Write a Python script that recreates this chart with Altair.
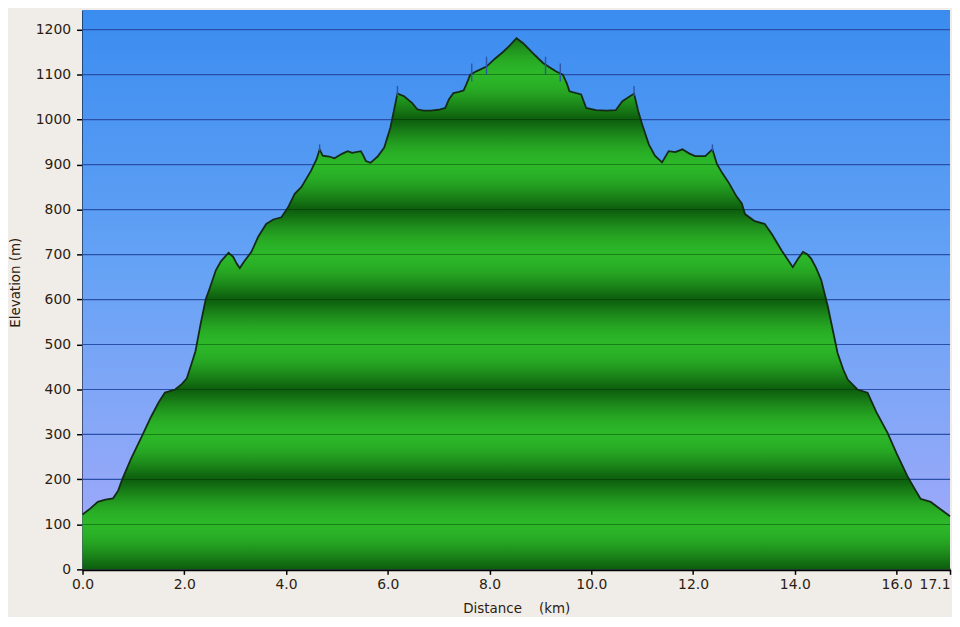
import math
import altair as alt
import pandas as pd

# ---------------- data ----------------
dist = [0.00, 0.15, 0.30, 0.45, 0.60, 0.70, 0.78, 0.95, 1.17, 1.35, 1.50, 1.62, 1.82, 1.95,
        2.05, 2.15, 2.22, 2.32, 2.42, 2.50, 2.62, 2.72, 2.87, 2.96, 3.03, 3.09, 3.18, 3.32,
        3.45, 3.61, 3.75, 3.91, 4.04, 4.17, 4.30, 4.49, 4.60, 4.66, 4.72, 4.85, 4.95, 5.10,
        5.21, 5.30, 5.47, 5.52, 5.57, 5.66, 5.80, 5.93, 6.05, 6.12, 6.19, 6.32, 6.48, 6.58,
        6.70, 6.84, 7.00, 7.13, 7.20, 7.29, 7.40, 7.49, 7.55, 7.62, 7.75, 7.94, 8.10, 8.27,
        8.40, 8.53, 8.66, 8.85, 9.05, 9.20, 9.31, 9.44, 9.52, 9.57, 9.80, 9.90, 10.09, 10.30,
        10.48, 10.61, 10.84, 10.92, 11.00, 11.13, 11.25, 11.39, 11.52, 11.65, 11.79, 11.92,
        12.04, 12.24, 12.38, 12.47, 12.58, 12.70, 12.85, 12.96, 13.02, 13.20, 13.41, 13.55,
        13.74, 13.96, 14.06, 14.16, 14.25, 14.32, 14.42, 14.52, 14.65, 14.75, 14.84, 14.95,
        15.04, 15.23, 15.43, 15.60, 15.82, 16.00, 16.21, 16.35, 16.47, 16.67, 16.85, 17.05]
elev = [122, 135, 150, 155, 158, 175, 200, 245, 297, 340, 372, 393, 400, 412,
        425, 460, 485, 545, 600, 625, 665, 685, 704, 695, 680, 670, 685, 706,
        739, 768, 778, 783, 805, 835, 850, 886, 912, 934, 920, 918, 914, 924,
        930, 926, 930, 920, 908, 904, 918, 938, 982, 1020, 1058, 1052, 1037, 1023,
        1020, 1020, 1022, 1026, 1045, 1059, 1062, 1065, 1080, 1100, 1108, 1118, 1135, 1151,
        1165, 1181, 1170, 1148, 1126, 1115, 1107, 1100, 1080, 1063, 1056, 1026, 1021, 1020,
        1021, 1041, 1058, 1020, 989, 945, 920, 905, 930, 928, 934, 925,
        919, 919, 934, 901, 880, 860, 830, 813, 790, 775, 768, 745,
        709, 672, 690, 706, 700, 691, 670, 643, 584, 530, 481, 445,
        422, 400, 393, 350, 304, 258, 208, 180, 157, 150, 135, 118]

x_ticks = [0, 2, 4, 6, 8, 10, 12, 14, 16, 17.05]
y_ticks = [0, 100, 200, 300, 400, 500, 600, 700, 800, 900, 1000, 1100, 1200]

wp_dist = [4.66, 6.19, 7.65, 7.94, 9.10, 9.39, 10.84, 12.38]
wp_lo = [930, 1052, 1085, 1100, 1100, 1085, 1052, 930]
wp_hi = [945, 1075, 1125, 1140, 1140, 1125, 1075, 945]

# ---------------- layout / style ----------------
W, H = 873, 563
X_MAX = 17.05
Y_MAX = 1244
TXT = "#2d1c10"
FONT = "DejaVu Sans"

profile = pd.DataFrame({"d": dist, "e": elev})
grid = pd.DataFrame({"e": y_ticks[1:]})
wps = pd.DataFrame({"d": wp_dist, "lo": wp_lo, "hi": wp_hi})


def hexc(rgb):
    return "#%02x%02x%02x" % tuple(int(round(c)) for c in rgb)


DARK = (13, 94, 13)
BRIGHT = (44, 182, 40)


def band(v):
    m = v % 200.0
    de = min(m, 200.0 - m)
    f = (1 - math.cos(math.pi * de / 100.0)) / 2.0
    f = f ** 0.55
    return tuple(DARK[i] + (BRIGHT[i] - DARK[i]) * f for i in range(3))


vmax = max(elev)
pts = []
v = 0.0
while v <= vmax:
    near = min(abs(v - h) for h in y_ticks)
    if near > 2.0:
        pts.append((v, hexc(band(v))))
    v += 5.0
for h in y_ticks[1:]:
    if h + 1.2 >= vmax:
        continue
    line_c = (24, 128, 24) if (h // 100) % 2 == 1 else (8, 70, 8)
    pts.append((h + 1.2, hexc(band(h + 1.2))))
    pts.append((h + 0.9, hexc(line_c)))
    pts.append((h - 0.9, hexc(line_c)))
    pts.append((h - 1.2, hexc(band(h - 1.2))))
pts.append((vmax, hexc(band(vmax))))
pts.append((0.0, hexc(band(0.0))))
stops = sorted({round((vmax - pv) / vmax, 5): c for pv, c in pts}.items())
green_grad = {"gradient": "linear", "x1": 0, "y1": 0, "x2": 0, "y2": 1,
              "stops": [{"offset": o, "color": c} for o, c in stops]}

sky_grad = {"gradient": "linear", "x1": 0, "y1": 0, "x2": 0, "y2": 1,
            "stops": [{"offset": 0, "color": "#3a8cf0"},
                      {"offset": 0.45, "color": "#64a2f5"},
                      {"offset": 0.75, "color": "#88a7f7"},
                      {"offset": 1, "color": "#a6a8fb"}]}

xscale = alt.Scale(domain=[0, X_MAX], nice=False, zero=False)
yscale = alt.Scale(domain=[0, Y_MAX], nice=False)

xaxis = alt.Axis(
    values=x_ticks, grid=False, title="Distance\u00a0\u00a0\u00a0 (km)",
    labelExpr="datum.value > 17 ? '17.1' : format(datum.value, '.1f')",
    labelAlign={"condition": {"test": "datum.value > 17", "value": "right"}, "value": "center"},
    labelFlush=False, labelOverlap=False, labelPadding=3,
    domainWidth=2.6, tickSize=5, tickWidth=1.5,
    titleY=39, titleBaseline="middle",
)
yaxis = alt.Axis(
    values=y_ticks, format="d", grid=False, title="Elevation (m)",
    labelPadding=6, labelOverlap=False, domainWidth=2, tickSize=6, tickWidth=1.5,
    titleAngle=270, titleX=-67, titleY=274, titleAlign="center", titleBaseline="middle",
)

bg = alt.Chart(pd.DataFrame({"k": [0]})).mark_rect(color=sky_grad, opacity=1).encode(
    x=alt.value(0), x2=alt.value(W), y=alt.value(0), y2=alt.value(H)
)

gridlines = alt.Chart(grid).mark_rule(color="#2a4fa8", strokeWidth=1.2, opacity=1).encode(
    y=alt.Y("e:Q", scale=yscale, axis=yaxis)
)

area = alt.Chart(profile).mark_area(
    color=green_grad, opacity=1, fillOpacity=1,
    line={"color": "#142c16", "strokeWidth": 1.8}, interpolate="linear"
).encode(
    x=alt.X("d:Q", scale=xscale, axis=xaxis),
    y=alt.Y("e:Q", scale=yscale, axis=yaxis),
)

waypoints = alt.Chart(wps).mark_rule(color="#2f55a8", strokeWidth=1.4).encode(
    x=alt.X("d:Q", scale=xscale, axis=xaxis),
    y=alt.Y("lo:Q", scale=yscale, axis=yaxis),
    y2="hi:Q",
)

chart = alt.layer(bg, gridlines, area, waypoints).properties(
    width=W, height=H,
    padding={"left": 75, "top": 0, "right": 2, "bottom": 46},
    autosize=alt.AutoSizeParams(type="none"),
    background="#f0ede9",
).configure_view(stroke=None).configure_axis(
    domainColor="#000000", tickColor="#000000",
    labelColor=TXT, labelFont=FONT, labelFontSize=14,
    titleColor=TXT, titleFont=FONT, titleFontSize=13.5, titleFontWeight="normal",
)

chart.save("out.html", embed_options={"renderer": "svg", "actions": False})
